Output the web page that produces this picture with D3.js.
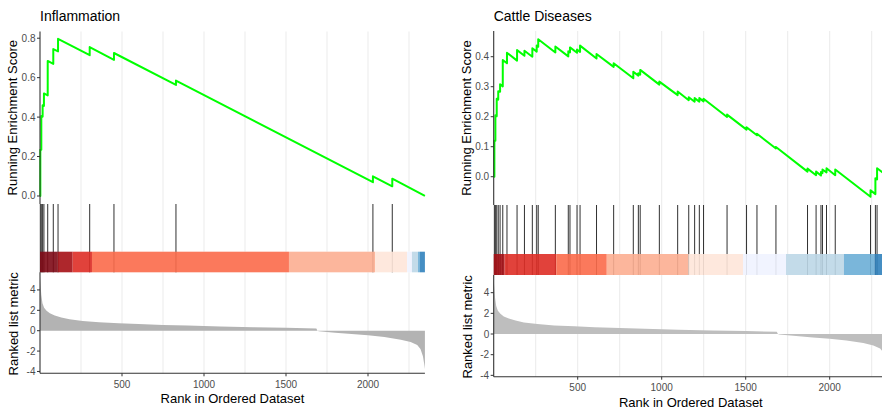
<!DOCTYPE html>
<html><head><meta charset="utf-8">
<script src="https://cdn.jsdelivr.net/npm/d3@7"></script>
<style>body{margin:0;background:#fff}svg text{font-family:"Liberation Sans",Arial,sans-serif}</style>
</head><body><svg id="c" width="882" height="412"></svg>
<script>
// ---------- shared ranked list ----------
const N = 2347;
const metricRank = [0, 3, 8, 15, 25, 40, 60, 90, 130, 180, 260, 360, 480, 600, 750, 900, 1100, 1300, 1500, 1685, 1692, 1700, 1800, 1900, 2000, 2100, 2200, 2260, 2300, 2320, 2335, 2342, 2347];
const metricValue = [5.3, 4.6, 3.5, 2.7, 2.25, 1.95, 1.7, 1.5, 1.3, 1.12, 0.96, 0.83, 0.74, 0.66, 0.57, 0.5, 0.42, 0.35, 0.29, 0.22, 0.0, -0.05, -0.2, -0.33, -0.45, -0.62, -0.88, -1.1, -1.4, -1.8, -2.5, -3.2, -3.75];
const xTicks = [500, 1000, 1500, 2000];
const gridRanks = [250, 500, 750, 1000, 1250, 1500, 1750, 2000, 2250];
const rankTicks = [-4, -2, 0, 2, 4];

// ---------- left: Inflammation ----------
const leftTitle = "Inflammation";
const leftEsTicks = [0, 0.2, 0.4, 0.6, 0.8];
const leftHits = [2, 8, 16, 24, 47, 81, 110, 303, 451, 829, 2030, 2148];
const leftBefore = [0, 0.234, 0.402, 0.457, 0.51, 0.67, 0.733, 0.714, 0.69, 0.563, 0.07, 0.049];
const leftAfter = [0.235, 0.405, 0.46, 0.52, 0.685, 0.745, 0.797, 0.755, 0.725, 0.585, 0.10, 0.088];
const leftBarBreaks = [0, 108, 199, 317, 1518, 2043, 2238, 2268, 2305, 2317, 2347];
const leftBarColors = ["#7E0A16", "#A50F15", "#DE2D26", "#FB6A4A", "#FCAE91", "#FEE5D9", "#EFF3FF", "#BDD7E7", "#6BAED6", "#3182BD"];

// ---------- right: Cattle Diseases ----------
const rightTitle = "Cattle Diseases";
const rightEsTicks = [0, 0.1, 0.2, 0.3, 0.4];
const rightHits = [4, 10, 18, 27, 38, 54, 79, 139, 183, 230, 256, 265, 367, 444, 454, 496, 514, 612, 714, 831, 861, 872, 986, 1095, 1161, 1196, 1224, 1249, 1389, 1505, 1567, 1680, 1868, 1919, 1948, 1957, 1981, 2033, 2243, 2272, 2282];
const rightBefore = [0, 0.12, 0.202, 0.257, 0.283, 0.301, 0.378, 0.387, 0.403, 0.40, 0.417, 0.433, 0.414, 0.401, 0.414, 0.413, 0.416, 0.394, 0.366, 0.328, 0.337, 0.340, 0.307, 0.272, 0.255, 0.250, 0.250, 0.251, 0.199, 0.157, 0.138, 0.094, 0.017, 0.005, 0.004, 0.012, 0.014, 0.005, -0.067, -0.058, -0.009];
const rightAfter = [0.12, 0.205, 0.26, 0.285, 0.308, 0.389, 0.413, 0.422, 0.42, 0.428, 0.437, 0.458, 0.434, 0.418, 0.431, 0.424, 0.437, 0.409, 0.378, 0.350, 0.345, 0.356, 0.317, 0.284, 0.265, 0.262, 0.262, 0.260, 0.207, 0.165, 0.143, 0.099, 0.027, 0.017, 0.016, 0.024, 0.028, 0.024, -0.045, -0.005, 0.028];
const rightBarBreaks = [0, 65, 373, 673, 1158, 1484, 1740, 2085, 2266, 2347];
const rightBarColors = ["#A50F15", "#DE2D26", "#FB6A4A", "#FCAE91", "#FEE5D9", "#EFF3FF", "#BDD7E7", "#6BAED6", "#3182BD"];

const svg = d3.select("#c");
svg.append("rect").attr("width", 882).attr("height", 412).attr("fill", "#fff");

function panel(L, D) {
  const g = svg.append("g");
  const x = d3.scaleLinear().domain([0, N]).range([L.x0, L.x1]);
  const yEs = d3.scaleLinear().domain(L.esDomain).range([L.esBot, L.esTop]);
  const yRk = d3.scaleLinear().domain(L.rankDomain).range([L.rankBot, L.barBot]);

  // gridlines
  const grid = g.append("g");
  [[L.esTop, L.esBot], [L.esBot, L.hitBot], [L.barBot, L.rankBot]].forEach(([a, b]) => {
    grid.selectAll(null).data(gridRanks).enter().append("line")
      .attr("x1", d => x(d)).attr("x2", d => x(d)).attr("y1", a).attr("y2", b)
      .attr("stroke", "#EBEBEB").attr("stroke-width", 1);
  });

  // running ES line
  const pts = [[0, 0]];
  D.hits.forEach((r, i) => { pts.push([r, D.before[i]]); pts.push([r, D.after[i]]); });
  pts.push([N, 0]);
  g.append("path").datum(pts)
    .attr("d", d3.line().x(d => x(d[0])).y(d => yEs(d[1])))
    .attr("fill", "none").attr("stroke", "#00FF00").attr("stroke-width", 2).attr("stroke-linejoin", "round");

  // hit lines
  g.selectAll(null).data(D.hits).enter().append("line")
    .attr("x1", d => x(d)).attr("x2", d => x(d)).attr("y1", L.esBot).attr("y2", L.barBot)
    .attr("stroke", "#1a1a1a").attr("stroke-width", 0.9);

  // colour bar
  g.selectAll(null).data(D.colors).enter().append("rect")
    .attr("x", (d, i) => x(D.breaks[i])).attr("width", (d, i) => x(D.breaks[i + 1]) - x(D.breaks[i]))
    .attr("y", L.hitBot).attr("height", L.barBot - L.hitBot)
    .attr("fill", d => d).attr("fill-opacity", 0.9);

  // ranked metric area
  const md = metricRank.map((r, i) => [r, metricValue[i]]);
  g.append("path").datum(md)
    .attr("d", d3.area().x(d => x(d[0])).y0(yRk(0)).y1(d => yRk(d[1])))
    .attr("fill", L.areaColor);

  // axes
  const axc = "#333";
  g.append("line").attr("x1", L.x0).attr("x2", L.x0).attr("y1", L.esTop).attr("y2", L.esBot).attr("stroke", axc).attr("stroke-width", 1.1);
  g.append("line").attr("x1", L.x0).attr("x2", L.x0).attr("y1", L.barBot).attr("y2", L.rankBot).attr("stroke", axc).attr("stroke-width", 1.1);
  g.append("line").attr("x1", L.x0).attr("x2", L.x1).attr("y1", L.rankBot).attr("y2", L.rankBot).attr("stroke", axc).attr("stroke-width", 1.1);

  const fmt = d3.format(".1f");
  D.esTicks.forEach(t => {
    g.append("line").attr("x1", L.x0 - 3).attr("x2", L.x0).attr("y1", yEs(t)).attr("y2", yEs(t)).attr("stroke", axc);
    g.append("text").attr("x", L.x0 - 4.5).attr("y", yEs(t) + 3.5).attr("text-anchor", "end")
      .attr("font-size", 10).attr("fill", "#4D4D4D").text(fmt(t));
  });
  rankTicks.forEach(t => {
    g.append("line").attr("x1", L.x0 - 3).attr("x2", L.x0).attr("y1", yRk(t)).attr("y2", yRk(t)).attr("stroke", axc);
    g.append("text").attr("x", L.x0 - 4.5).attr("y", yRk(t) + 3.5).attr("text-anchor", "end")
      .attr("font-size", 10).attr("fill", "#4D4D4D").text(String(t));
  });
  xTicks.forEach(t => {
    g.append("line").attr("x1", x(t)).attr("x2", x(t)).attr("y1", L.rankBot).attr("y2", L.rankBot + 3).attr("stroke", axc);
    g.append("text").attr("x", x(t)).attr("y", L.rankBot + 14.5).attr("text-anchor", "middle")
      .attr("font-size", 10).attr("fill", "#4D4D4D").text(String(t));
  });

  // titles
  g.append("text").attr("x", L.x0).attr("y", 21).attr("font-size", 14).attr("fill", "#000").text(D.title);
  g.append("text").attr("x", (L.x0 + L.x1) / 2).attr("y", L.rankBot + 30).attr("text-anchor", "middle")
    .attr("font-size", 13).attr("fill", "#000").text("Rank in Ordered Dataset");
  g.append("text").attr("transform", `translate(${L.yTitleX},${(L.esTop + L.esBot) / 2}) rotate(-90)`)
    .attr("text-anchor", "middle").attr("font-size", 13).attr("fill", "#000").text("Running Enrichment Score");
  g.append("text").attr("transform", `translate(${L.yTitleX + 0.8},${(L.barBot + L.rankBot) / 2 + 1}) rotate(-90)`)
    .attr("text-anchor", "middle").attr("font-size", 13).attr("fill", "#000").text("Ranked list metric");
}

panel({x0: 40, x1: 40 + N * 0.164, esTop: 31.5, esBot: 204, hitBot: 251.7, barBot: 272.3, rankBot: 373.3,
       esDomain: [-0.0406, 0.834], rankDomain: [-4.18, 5.73], yTitleX: 17, areaColor: "#B3B3B3"},
      {title: leftTitle, esTicks: leftEsTicks, hits: leftHits, before: leftBefore, after: leftAfter,
       breaks: leftBarBreaks, colors: leftBarColors});
panel({x0: 493.7, x1: 493.7 + N * 0.168, esTop: 31, esBot: 205, hitBot: 254, barBot: 275, rankBot: 376.7,
       esDomain: [-0.0943, 0.4857], rankDomain: [-4.13, 5.71], yTitleX: 471, areaColor: "#BEBEBE"},
      {title: rightTitle, esTicks: rightEsTicks, hits: rightHits, before: rightBefore, after: rightAfter,
       breaks: rightBarBreaks, colors: rightBarColors});
</script></body></html>
